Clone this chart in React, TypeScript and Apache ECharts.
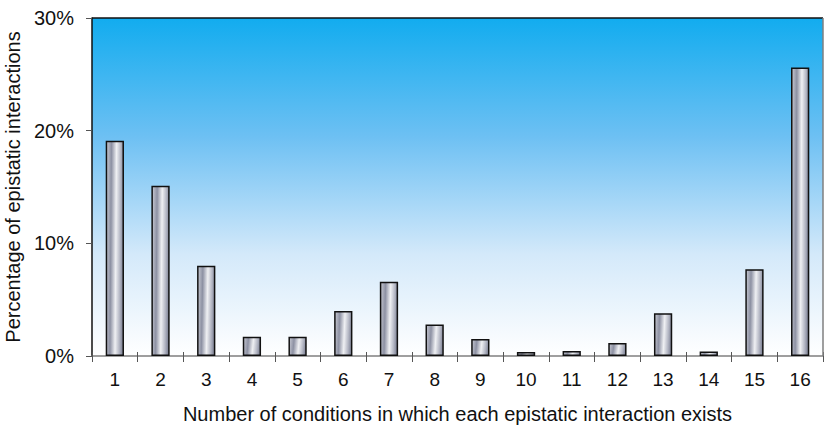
import React, { useEffect, useRef } from "react";
import * as echarts from "echarts";

const categories = ["1", "2", "3", "4", "5", "6", "7", "8", "9", "10", "11", "12", "13", "14", "15", "16"];
const percentages = [19.1, 15.1, 8.0, 1.7, 1.7, 4.0, 6.6, 2.8, 1.5, 0.35, 0.45, 1.15, 3.8, 0.4, 7.7, 25.6];
const yTicks = [0, 10, 20, 30];
const xAxisTitle = "Number of conditions in which each epistatic interaction exists";
const yAxisTitle = "Percentage of epistatic interactions";

export default function App() {
  const ref = useRef<HTMLDivElement>(null);
  useEffect(() => {
    if (!ref.current) return;
    const chart = echarts.init(ref.current, null, { renderer: "svg" });
    const font = "'Liberation Sans', Arial, sans-serif";
    chart.setOption({
      animation: false,
      grid: {
        left: 92,
        right: 7,
        top: 18,
        bottom: 77,
        containLabel: false,
        outerBoundsMode: "none",
        show: true,
        borderWidth: 0,
        backgroundColor: {
          type: "linear",
          x: 0, y: 0, x2: 0, y2: 1,
          colorStops: [
            { offset: 0, color: "#12acef" },
            { offset: 0.35, color: "#6dc0f3" },
            { offset: 0.7, color: "#d4e9fa" },
            { offset: 1, color: "#ffffff" },
          ],
        },
      },
      xAxis: [
        {
          type: "category",
          data: categories,
          name: xAxisTitle,
          nameLocation: "middle",
          nameGap: 48,
          nameTextStyle: { fontFamily: font, fontSize: 20, color: "#111" },
          axisLine: { lineStyle: { color: "#7f7f7f", width: 1.5 } },
          axisTick: { show: true, length: 6, lineStyle: { color: "#555" } },
          axisLabel: { fontFamily: font, fontSize: 19, color: "#111", margin: 14 },
        },
        {
          type: "category",
          data: categories,
          position: "bottom",
          axisLine: { show: false },
          axisTick: { show: true, inside: true, length: 4, lineStyle: { color: "#555" } },
          axisLabel: { show: false },
        },
      ],
      yAxis: {
        type: "value",
        min: yTicks[0],
        max: yTicks[yTicks.length - 1],
        interval: 10,
        name: yAxisTitle,
        nameLocation: "middle",
        nameGap: 68,
        nameTextStyle: { fontFamily: font, fontSize: 20, color: "#111" },
        axisLine: { show: true, lineStyle: { color: "#111", width: 1.5 } },
        axisTick: { show: true, length: 6, lineStyle: { color: "#555" } },
        splitLine: { show: false },
        axisLabel: { fontFamily: font, fontSize: 20, color: "#111", margin: 18, formatter: "{value}%" },
      },
      graphic: [
        {
          type: "line",
          shape: { x1: 92, y1: 18, x2: 823, y2: 18 },
          style: { stroke: "#111", lineWidth: 1.5 },
          z: 10,
        },
        {
          type: "line",
          shape: { x1: 823, y1: 18, x2: 823, y2: 356 },
          style: { stroke: "#7f7f7f", lineWidth: 1.5 },
          z: 10,
        },
      ],
      series: [
        {
          type: "bar",
          xAxisIndex: 0,
          data: percentages,
          barWidth: "40%",
          itemStyle: {
            borderColor: "#111",
            borderWidth: 1.5,
            color: {
              type: "linear",
              x: 0, y: 0, x2: 1, y2: 0.1,
              colorStops: [
                { offset: 0, color: "#c9cbd4" },
                { offset: 0.3, color: "#8d91a3" },
                { offset: 0.6, color: "#eff0f3" },
                { offset: 0.85, color: "#b4b7c4" },
                { offset: 1, color: "#8a8ea0" },
              ],
            },
          },
        },
      ],
    });
    return () => chart.dispose();
  }, []);
  return <div ref={ref} style={{ position: "absolute", left: 0, top: 0, width: 830, height: 433 }} />;
}
